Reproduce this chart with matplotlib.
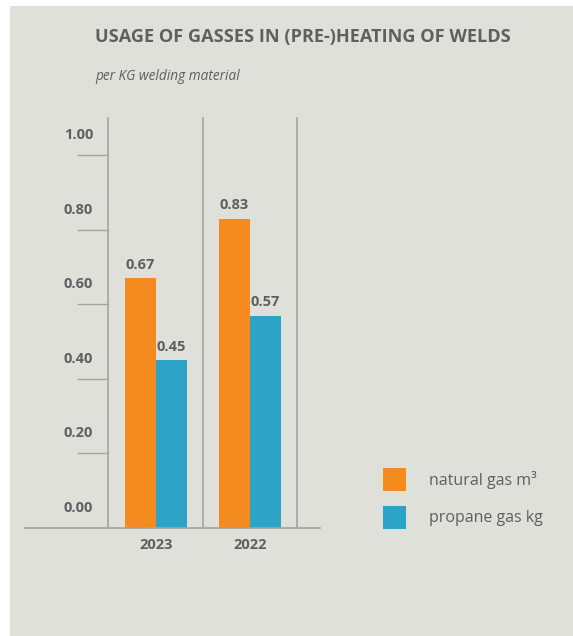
import matplotlib.pyplot as plt
from matplotlib.patches import Rectangle

# data
years = ['2023', '2022']
natural_gas = [0.67, 0.83]
propane_gas = [0.45, 0.57]
series_names = ['natural gas m³', 'propane gas kg']
y_ticks = [0.0, 0.2, 0.4, 0.6, 0.8, 1.0]

c_orange = '#f58b1f'
c_blue = '#2ca3c7'
c_bg = '#dfe0da'
c_line = '#a3a59f'
c_text = '#5e6060'

W, H = 573, 636
fig = plt.figure(figsize=(W / 100, H / 100), dpi=100)
fig.patch.set_facecolor('white')


def px(x, y):
    # pixel coords (top-left origin) -> figure fraction
    return x / W, 1 - y / H


# grijs paneel (achter de assen)
fig.patches.append(Rectangle(px(10, 640), 1, (640 - 6) / H, transform=fig.transFigure,
                             facecolor=c_bg, edgecolor='none', zorder=-5))

fig.text(*px(95, 37), 'USAGE OF GASSES IN (PRE-)HEATING OF WELDS', fontsize=13.1,
         fontweight='bold', color=c_text, va='center', ha='left', family='Open Sans')
fig.text(*px(95, 76), 'per KG welding material', fontsize=9.8, style='italic',
         color=c_text, va='center', ha='left', family='Open Sans')

# assen: x 25..320 px, y 118..528 px
left, bottom = px(25, 528)
ax = fig.add_axes([left, bottom, 295 / W, 410 / H])
ax.set_facecolor('none')
ax.set_xlim(-1.394, 1.745)
ax.set_ylim(0, 1.1)
ax.axis('off')

bw = 0.33
xs = list(range(len(years)))
ax.bar([x - bw / 2 for x in xs], natural_gas, bw, color=c_orange, zorder=2)
ax.bar([x + bw / 2 for x in xs], propane_gas, bw, color=c_blue, zorder=2)

lbl = dict(fontsize=10.5, fontweight='bold', color=c_text, family='Open Sans')
for x, a, b in zip(xs, natural_gas, propane_gas):
    ax.text(x - bw / 2, a + 0.018, f'{a:.2f}', ha='center', va='bottom', **lbl)
    ax.text(x + bw / 2, b + 0.018, f'{b:.2f}', ha='center', va='bottom', **lbl)
    ax.text(x, -0.027, years[x], ha='center', va='top', **lbl)

# scheidingslijnen en basislijn
for sx in [-0.51, 0.5, 1.5]:
    ax.plot([sx, sx], [0, 1.1], color=c_line, lw=1.2, zorder=1, clip_on=False)
ax.plot([-1.394, 1.745], [0, 0], color=c_line, lw=1.2, zorder=3, clip_on=False)

# y-as ticks
for t in y_ticks:
    if t > 0:
        ax.plot([-0.83, -0.51], [t, t], color=c_line, lw=1.0, clip_on=False)
    ax.text(-0.67, t + 0.054, f'{t:.2f}', ha='right', va='center', **lbl)

# legenda
for i, name in enumerate(series_names):
    col = [c_orange, c_blue][i]
    y0 = 468 + i * 38
    fig.patches.append(Rectangle(px(383, y0 + 23), 23 / W, 23 / H, transform=fig.transFigure,
                                 facecolor=col, edgecolor='none'))
    fig.text(*px(429, y0 + 12), name, fontsize=11.5, color=c_text, va='center', ha='left',
             family='Open Sans')

fig.savefig('out.png', dpi=100, facecolor='white')
